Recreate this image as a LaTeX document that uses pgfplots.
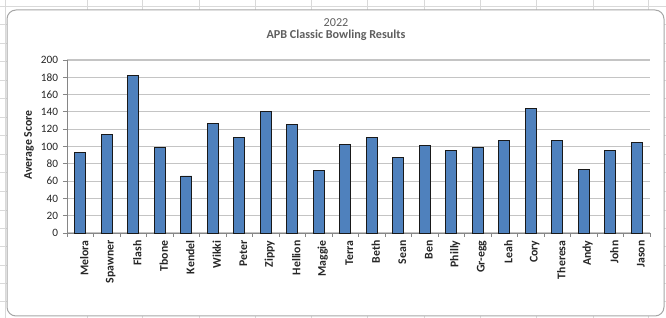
\documentclass[border=0pt]{standalone}
\usepackage{pgfplots}
\pgfplotsset{compat=1.18}
\usepackage{fontspec}
\setmainfont{Carlito}
\definecolor{barblue}{HTML}{4F81BD}
\definecolor{gridgray}{HTML}{C4C4C4}
\definecolor{axisgray}{HTML}{868686}
\definecolor{cellgray}{HTML}{D9D9D9}
\definecolor{bordergray}{HTML}{A6A6A6}
\definecolor{titlegray}{HTML}{5F5F5F}
\pgfplotstableread{
x y
0 93.4
1 113.5
2 182.3
3 99.2
4 66.0
5 126.7
6 110.8
7 140.6
8 125.0
9 71.8
10 102.7
11 110.0
12 87.3
13 101.6
14 95.8
15 99.2
16 106.6
17 144.0
18 106.6
19 73.4
20 95.8
21 105.0
}\scores
\begin{document}
\begin{tikzpicture}
\path[use as bounding box] (0bp,0bp) rectangle (666bp,318bp);
% spreadsheet cell lines behind the chart
\foreach \xx in {5,87,142,199,255,311,367,424,480,536,593,648}
  {\draw[cellgray,line width=0.8bp] (\xx bp,0bp) -- (\xx bp,318bp);}
\foreach \yy in {6,24,43,61,80,98,117,135,154,172,191,210,228,246,265,283,301}
  {\draw[cellgray,line width=0.8bp] (0bp,318bp-\yy bp) -- (666bp,318bp-\yy bp);}
% chart area
\draw[bordergray,fill=white,line width=1bp,rounded corners=9bp] (7bp,2bp) rectangle (664bp,308bp);
% title
\node[text=titlegray,font=\fontsize{12.2}{14}\selectfont] at (336bp,295bp) {2022};
\node[text=titlegray,font=\fontsize{12.2}{14}\selectfont\bfseries] at (336bp,282.5bp) {APB Classic Bowling Results};
% y label
\node[rotate=90,font=\fontsize{11.8}{13}\selectfont\bfseries,text=black!85] at (29bp,173bp) {Average Score};
\begin{axis}[
  at={(67bp,85bp)}, anchor=south west,
  scale only axis, width=583bp, height=173bp,
  xmin=-0.5, xmax=21.5, ymin=0, ymax=200,
  ytick={0,20,...,200},
  xtick=data,
  xticklabels={Melora,Spawner,Flash,Tbone,Kendel,Wikki,Peter,Zippy,Hellion,Maggie,Terra,Beth,Sean,Ben,Philly,Gr-egg,Leah,Cory,Theresa,Andy,John,Jason},
  xticklabel style={rotate=90, anchor=east, font=\fontsize{11.8}{13}\selectfont\bfseries, text=black!85, yshift=-4bp},
  yticklabel style={font=\fontsize{11.3}{12}\selectfont, text=black!85, xshift=-1.5bp},
  /pgf/number format/assume math mode=true,
  major x tick style={draw=none},
  minor xtick={-0.5,0.5,...,21.5},
  minor tick length=4bp,
  major tick length=4bp,
  tick align=outside,
  tick style={axisgray, line width=0.9bp},
  ymajorgrids, major grid style={gridgray, line width=1.1bp},
  axis x line*=bottom, axis y line*=left,
  axis line style={axisgray, line width=0.9bp, -},
  ybar, bar width=11bp,
  clip=false,
]
\addplot[fill=barblue, draw=black!90, line width=0.8bp] table[x=x,y=y] {\scores};
\end{axis}
\end{tikzpicture}
\end{document}
